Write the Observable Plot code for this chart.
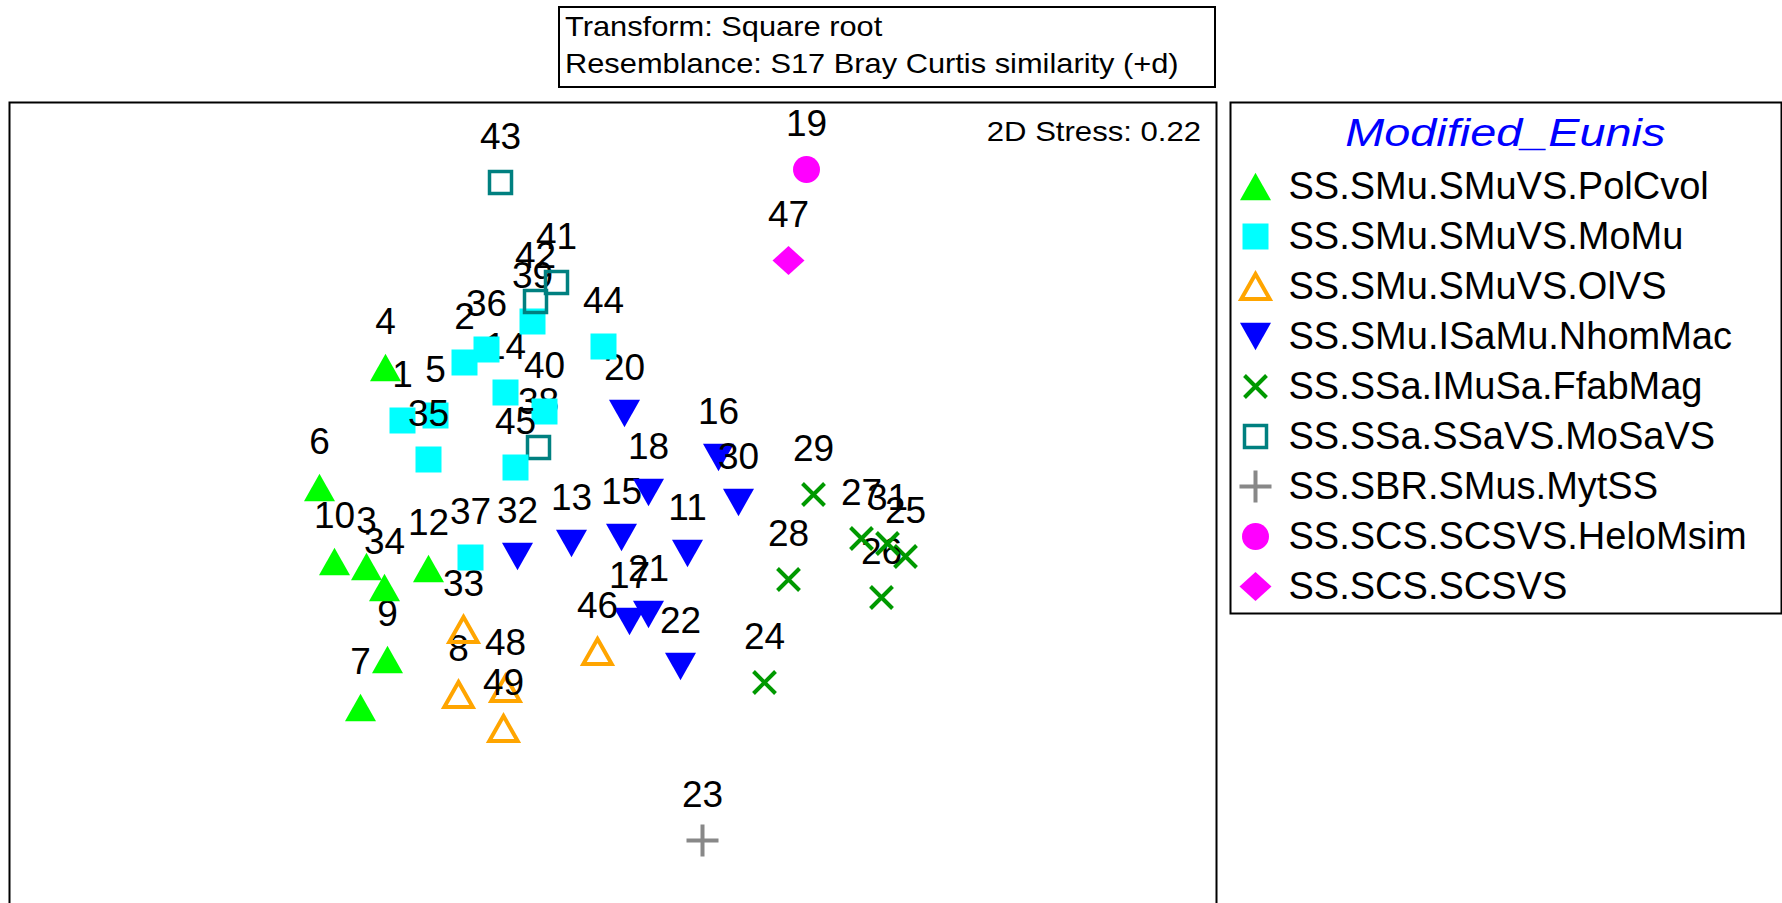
<!DOCTYPE html>
<html>
<head>
<meta charset="utf-8">
<script src="https://cdn.jsdelivr.net/npm/d3@7"></script>
<script src="https://cdn.jsdelivr.net/npm/@observablehq/plot@0.6"></script>
<style>
  html, body { margin: 0; padding: 0; background: #fff; }
  body { position: relative; width: 1782px; height: 903px; overflow: hidden; font-family: "Liberation Sans", Arial, sans-serif; color: #000; }
  .abs { position: absolute; }
  #header { left: 558px; top: 6px; width: 658px; height: 82px; box-sizing: border-box; border: 2px solid #000; }
  .htext { position: absolute; left: 5px; font-size: 28px; line-height: 28px; white-space: nowrap; transform: scaleX(1.1); transform-origin: left center; }
  #stress { top: 118px; right: 581px; font-size: 28px; line-height: 28px; white-space: nowrap; transform: scaleX(1.11); transform-origin: right center; }
  #ltitle { left: 1229px; top: 113px; width: 553px; text-align: center; font-size: 39px; line-height: 39px; font-style: italic; color: #0000ff; white-space: nowrap; }
  #ltitle span { display: inline-block; transform: scaleX(1.2); transform-origin: center; }
  #plot { left: 8px; top: 101px; }
  #legend { left: 1229px; top: 101px; }
</style>
</head>
<body>
<div id="plot" class="abs"></div>
<div id="legend" class="abs"></div>
<div id="header" class="abs"></div>
<div id="stress" class="abs"></div>
<div id="ltitle" class="abs"><span></span></div>
<script>
// ---------- data ----------
const headerLines = ["Transform: Square root", "Resemblance: S17 Bray Curtis similarity (+d)"];
const stressText = "2D Stress: 0.22";
const legendTitle = "Modified_Eunis";
const categories = [
  "SS.SMu.SMuVS.PolCvol",
  "SS.SMu.SMuVS.MoMu",
  "SS.SMu.SMuVS.OlVS",
  "SS.SMu.ISaMu.NhomMac",
  "SS.SSa.IMuSa.FfabMag",
  "SS.SSa.SSaVS.MoSaVS",
  "SS.SBR.SMus.MytSS",
  "SS.SCS.SCSVS.HeloMsim",
  "SS.SCS.SCSVS"
];
// sample number, group index (into categories), MDS x, MDS y
const sampleIds = [1,2,3,4,5,6,7,8,9,10,11,12,13,14,15,16,17,18,19,20,21,22,23,24,25,26,27,28,29,30,31,32,33,34,35,36,37,38,39,40,41,42,43,44,45,46,47,48,49];
const sampleGroup = [1,1,0,0,1,0,0,2,0,0,3,0,3,1,3,3,3,3,7,3,3,3,6,4,4,4,4,4,4,3,4,3,2,0,1,1,1,5,1,1,5,5,5,1,1,2,8,2,2];
const mdsX = [-0.844,-0.596,-0.988,-0.912,-0.712,-1.176,-1.012,-0.620,-0.904,-1.116,0.296,-0.740,-0.168,-0.432,0.032,0.420,0.064,0.140,0.772,0.044,0.140,0.268,0.356,0.604,1.168,1.072,0.992,0.700,0.800,0.500,1.096,-0.384,-0.600,-0.916,-0.740,-0.508,-0.572,-0.300,-0.324,-0.276,-0.228,-0.312,-0.452,-0.040,-0.392,-0.064,0.700,-0.432,-0.440];
const mdsY = [0.320,0.552,-0.264,0.532,0.340,0.052,-0.828,-0.776,-0.636,-0.244,-0.212,-0.272,-0.172,0.432,-0.148,0.172,-0.484,0.032,1.324,0.348,-0.456,-0.664,-1.360,-0.728,-0.224,-0.388,-0.152,-0.316,0.024,-0.008,-0.172,-0.224,-0.516,-0.348,0.164,0.604,-0.228,0.212,0.716,0.356,0.872,0.796,1.272,0.616,0.132,-0.604,0.960,-0.752,-0.912];

// ---------- symbols (bbox-centred) ----------
const rOf = s => Math.sqrt(s / Math.PI);
const triUp = {draw(c, s) { const r = rOf(s), h = 0.88 * r; c.moveTo(0, -h); c.lineTo(r, h); c.lineTo(-r, h); c.closePath(); }};
const triDown = {draw(c, s) { const r = rOf(s), h = 0.88 * r; c.moveTo(0, h); c.lineTo(r, -h); c.lineTo(-r, -h); c.closePath(); }};
const sq = {draw(c, s) { const r = rOf(s); c.moveTo(-r, -r); c.lineTo(r, -r); c.lineTo(r, r); c.lineTo(-r, r); c.closePath(); }};
const times = {draw(c, s) { const r = rOf(s); c.moveTo(-r, -r); c.lineTo(r, r); c.moveTo(-r, r); c.lineTo(r, -r); }};
const plus = {draw(c, s) { const r = rOf(s); c.moveTo(-r, 0); c.lineTo(r, 0); c.moveTo(0, -r); c.lineTo(0, r); }};
const circ = {draw(c, s) { const r = rOf(s); c.moveTo(r, 0); c.arc(0, 0, r, 0, 2 * Math.PI); c.closePath(); }};
const diam = {draw(c, s) { const r = rOf(s), h = 0.9 * r; c.moveTo(0, -h); c.lineTo(r, 0); c.lineTo(0, h); c.lineTo(-r, 0); c.closePath(); }};

const styleOf = [
  {symbol: triUp,   r: 15.5, fill: "#00ff00", stroke: "none"},
  {symbol: sq,      r: 13,   fill: "#00ffff", stroke: "none"},
  {symbol: triUp,   r: 14.2, fill: "none", stroke: "#ffa500", strokeWidth: 4},
  {symbol: triDown, r: 15.5, fill: "#0000ff", stroke: "none"},
  {symbol: times,   r: 11,   fill: "none", stroke: "#009900", strokeWidth: 4},
  {symbol: sq,      r: 11,   fill: "none", stroke: "#008080", strokeWidth: 3.5},
  {symbol: plus,    r: 16,   fill: "none", stroke: "#888888", strokeWidth: 4},
  {symbol: circ,    r: 13.5, fill: "#ff00ff", stroke: "none"},
  {symbol: diam,    r: 16,   fill: "#ff00ff", stroke: "none"}
];

// ---------- header & overlays ----------
const header = document.getElementById("header");
headerLines.forEach((t, i) => {
  const s = document.createElement("span");
  s.className = "htext";
  s.style.top = (i === 0 ? 5 : 42) + "px";
  s.textContent = t;
  header.appendChild(s);
});
document.getElementById("stress").textContent = stressText;
document.querySelector("#ltitle span").textContent = legendTitle;

// ---------- main ordination plot ----------
const table = sampleIds.map((id, i) => ({id: String(id), x: mdsX[i], y: mdsY[i], g: sampleGroup[i]}));
const marks = [Plot.frame({stroke: "#000", strokeWidth: 2})];
table.forEach(d => {
  const st = styleOf[d.g];
  marks.push(Plot.dot([d], {x: "x", y: "y", symbol: st.symbol, r: st.r, fill: st.fill, stroke: st.stroke, strokeWidth: st.strokeWidth || 1}));
  marks.push(Plot.text([d], {x: "x", y: "y", text: "id", dy: -34, lineAnchor: "bottom", fontSize: 37, fill: "#000"}));
});
const plot = Plot.plot({
  width: 1209, height: 830,
  marginTop: 1, marginRight: 1, marginBottom: 1, marginLeft: 1,
  x: {domain: [-2.416, 2.412], axis: null},
  y: {domain: [-1.72, 1.592], axis: null},
  style: {fontFamily: "Liberation Sans, Arial, sans-serif", background: "transparent", overflow: "visible"},
  marks
});
document.getElementById("plot").appendChild(plot);

// ---------- legend ----------
const lmarks = [Plot.frame({stroke: "#000", strokeWidth: 2})];
categories.forEach((c, i) => {
  const st = styleOf[i];
  lmarks.push(Plot.dot([c], {x: () => 0, y: d => d, symbol: st.symbol, r: st.r, fill: st.fill, stroke: st.stroke, strokeWidth: st.strokeWidth || 1}));
});
lmarks.push(Plot.text(categories, {x: () => 1, y: d => d, text: d => d, textAnchor: "start", lineAnchor: "middle", fontSize: 38, fill: "#000"}));
const legend = Plot.plot({
  width: 553, height: 513,
  marginTop: 1, marginRight: 1, marginBottom: 1, marginLeft: 1,
  x: {type: "linear", domain: [0, 1], range: [26, 59], axis: null},
  y: {type: "point", domain: categories, range: [83, 487], padding: 0, axis: null},
  style: {fontFamily: "Liberation Sans, Arial, sans-serif", background: "transparent", overflow: "visible"},
  marks: lmarks
});
document.getElementById("legend").appendChild(legend);
</script>
</body>
</html>
